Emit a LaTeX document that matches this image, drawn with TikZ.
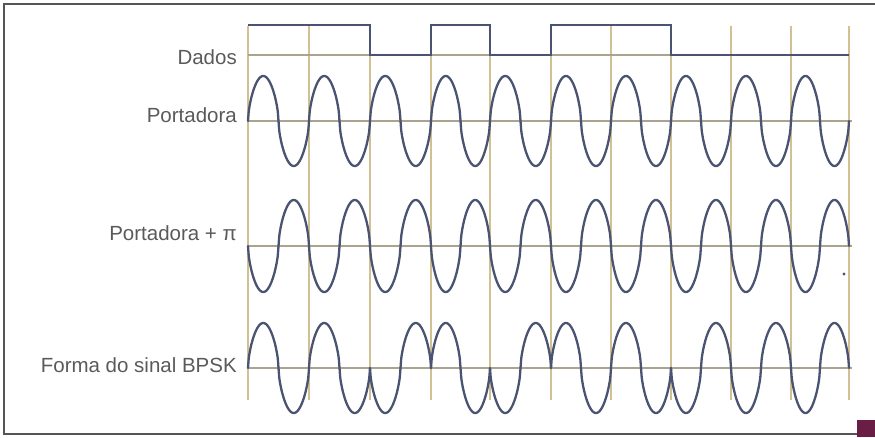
\documentclass[tikz,border=0pt]{standalone}
\usepackage{fontspec}
\setmainfont{Liberation Sans}
\definecolor{wavecol}{HTML}{4A5472}
\definecolor{gridcol}{HTML}{D2C095}
\definecolor{axiscol}{HTML}{ABA38E}
\definecolor{framecol}{HTML}{555555}
\definecolor{labelcol}{HTML}{5A5A5A}
\definecolor{cornercol}{HTML}{6B1E45}
\tikzset{
  wave/.style={wavecol,line width=2.3pt,line cap=round,line join=round},
  gridline/.style={gridcol,line width=1.1pt},
  axisline/.style={axiscol,line width=1.1pt},
  rowlabel/.style={anchor=base east,inner sep=0pt,text=labelcol,
    font=\fontsize{20.5}{24}\selectfont}
}
% rounded sine: sign(sin)*|sin|^0.6
\pgfmathdeclarefunction{rsin}{1}{%
  \pgfmathparse{sin(#1)*(abs(sin(#1))+0.0001)^(-0.4)}%
}
\begin{document}
\begin{tikzpicture}[x=1pt,y=-1pt]
    \useasboundingbox (0,0) rectangle (875,437);
    % frame
    \draw[framecol,line width=2pt] (875,4) -- (4,4) -- (4,434) -- (857,434);
    \fill[cornercol] (857,420) rectangle (875,437);
    % grid
    \foreach \xg in {248,309,370,431,490,551,611,671,731,791,849}
      \draw[gridline] (\xg,26) -- (\xg,400);
    \draw[axisline] (248,55) -- (849,55);
    \foreach \yc in {121,246,368}
      \draw[axisline] (248,\yc) -- (852,\yc);
    % labels
    \node[rowlabel] (dados) at (237,64) {Dados};
    \node[rowlabel] (port) at (237,122) {Portadora};
    \node[rowlabel] (portpi) at (237,240) {Portadora + π};
    \node[rowlabel] (bpsk) at (237,372) {Forma do sinal BPSK};
    % data bits
    \draw[wave,line cap=butt,line join=miter] (248,25) -- (370,25) -- (370,55) -- (431,55)
      -- (431,25) -- (490,25) -- (490,55) -- (551,55) -- (551,25) -- (671,25)
      -- (671,55) -- (849,55);
    % carriers and BPSK signal
    \foreach \xa/\xb/\s in {248/309/1,309/370/1,370/431/-1,431/490/1,490/551/-1,
                            551/611/1,611/671/1,671/731/-1,731/791/-1,791/849/-1}{
      \draw[wave] plot[domain=\xa:\xb,samples=81,smooth]
        (\x,{121-45*rsin((\x-\xa)/(\xb-\xa)*360)});
      \draw[wave] plot[domain=\xa:\xb,samples=81,smooth]
        (\x,{246+46*rsin((\x-\xa)/(\xb-\xa)*360)});
      \draw[wave] plot[domain=\xa:\xb,samples=81,smooth]
        (\x,{368-\s*45*rsin((\x-\xa)/(\xb-\xa)*360)});
    }
    % speck
    \fill[wavecol] (844,274) circle (1.6);
\end{tikzpicture}
\end{document}
